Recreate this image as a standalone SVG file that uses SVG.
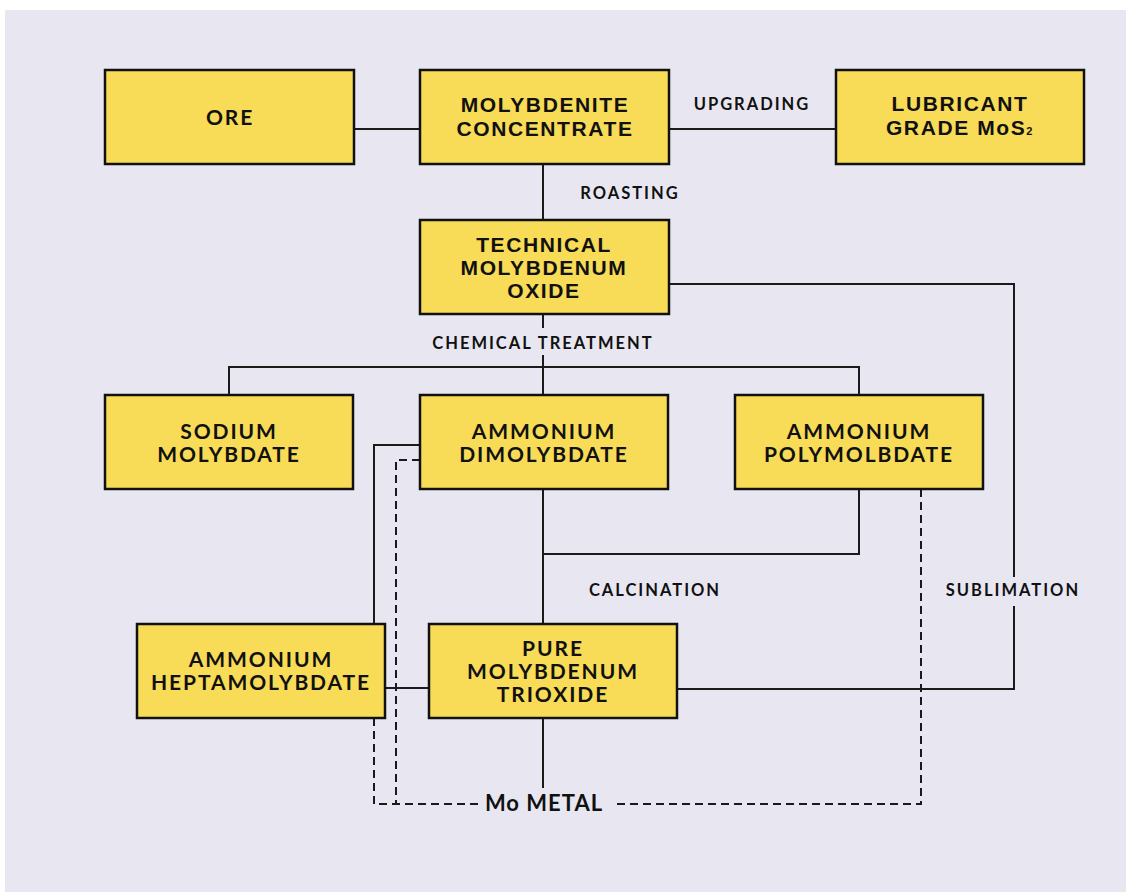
<svg xmlns="http://www.w3.org/2000/svg" width="1126" height="892" viewBox="0 0 1126 892">
<style>
.box{fill:#F8DC57;stroke:#111;stroke-width:2.5}
.ln{fill:none;stroke:#1a1a1a;stroke-width:2}
.dash{fill:none;stroke:#1a1a1a;stroke-width:2;stroke-dasharray:8 5}
.bt{font-family:Lato,"Open Sans","Liberation Sans",sans-serif;font-weight:bold;font-size:21px;letter-spacing:1.9px;fill:#111;text-anchor:middle}
.ct{font-family:"Liberation Sans",Arial,sans-serif;font-weight:bold;font-size:21px;letter-spacing:1.6px;fill:#111;text-anchor:middle}
.lb{font-family:Lato,"Open Sans","Liberation Sans",sans-serif;font-weight:bold;font-size:16.5px;letter-spacing:2px;fill:#111;text-anchor:middle}
</style>
<rect x="5" y="10" width="1121" height="882" fill="#E8E7F1"/>
<g id="connectors">
<line class="ln" x1="354" y1="129" x2="420" y2="129"/>
<line class="ln" x1="669" y1="129" x2="836" y2="129"/>
<line class="ln" x1="543" y1="164" x2="543" y2="220"/>
<line class="ln" x1="543" y1="314" x2="543" y2="328"/>
<line class="ln" x1="543" y1="355" x2="543" y2="395"/>
<polyline class="ln" points="229,395 229,367 859,367 859,395"/>
<polyline class="ln" points="669,284 1014,284 1014,577"/>
<polyline class="ln" points="1014,606 1014,689 677,689"/>
<line class="ln" x1="543" y1="489" x2="543" y2="624"/>
<polyline class="ln" points="543,554 859,554 859,489"/>
<polyline class="ln" points="420,445 374,445 374,624"/>
<line class="ln" x1="385" y1="688" x2="429" y2="688"/>
<line class="ln" x1="543" y1="718" x2="543" y2="788"/>
<polyline class="dash" points="420,460 396,460 396,804"/>
<polyline class="dash" points="374,718 374,804 478,804"/>
<polyline class="dash" points="921,489 921,804 612,804"/>
<text class="lb" x="752" y="110">UPGRADING</text>
<text class="lb" x="630" y="199">ROASTING</text>
<text class="lb" x="543" y="349">CHEMICAL TREATMENT</text>
<text class="lb" x="655" y="596">CALCINATION</text>
<text class="lb" x="1013" y="596">SUBLIMATION</text>
</g>
<g id="ore"><rect class="box" x="105" y="70" width="249" height="94"/><text class="bt" x="230" y="125">ORE</text></g>
<g id="molybdenite"><rect class="box" x="420" y="70" width="249" height="94"/><text class="ct" x="545" y="112">MOLYBDENITE</text><text class="ct" x="545" y="136">CONCENTRATE</text></g>
<g id="lubricant"><rect class="box" x="836" y="70" width="248" height="94"/><text class="ct" x="960" y="111">LUBRICANT</text><text class="ct" x="960" y="135">GRADE MoS<tspan font-size="11px">2</tspan></text></g>
<g id="technical"><rect class="box" x="420" y="220" width="249" height="94"/><text class="ct" x="544" y="252">TECHNICAL</text><text class="ct" x="544" y="275">MOLYBDENUM</text><text class="ct" x="544" y="298">OXIDE</text></g>
<g id="sodium"><rect class="box" x="105" y="395" width="248" height="94"/><text class="bt" x="229" y="439">SODIUM</text><text class="bt" x="229" y="462">MOLYBDATE</text></g>
<g id="dimolybdate"><rect class="box" x="420" y="395" width="248" height="94"/><text class="bt" x="544" y="439">AMMONIUM</text><text class="bt" x="544" y="462">DIMOLYBDATE</text></g>
<g id="polymolbdate"><rect class="box" x="735" y="395" width="248" height="94"/><text class="bt" x="859" y="439">AMMONIUM</text><text class="bt" x="859" y="462">POLYMOLBDATE</text></g>
<g id="heptamolybdate"><rect class="box" x="137" y="624" width="248" height="94"/><text class="bt" x="261" y="667">AMMONIUM</text><text class="bt" x="261" y="690">HEPTAMOLYBDATE</text></g>
<g id="pure"><rect class="box" x="429" y="624" width="248" height="94"/><text class="bt" x="553" y="656">PURE</text><text class="bt" x="553" y="679">MOLYBDENUM</text><text class="bt" x="553" y="702">TRIOXIDE</text></g>
<g id="mometal"><text class="bt" x="544" y="811" style="font-size:22px;letter-spacing:1px">Mo METAL</text></g>
</svg>
